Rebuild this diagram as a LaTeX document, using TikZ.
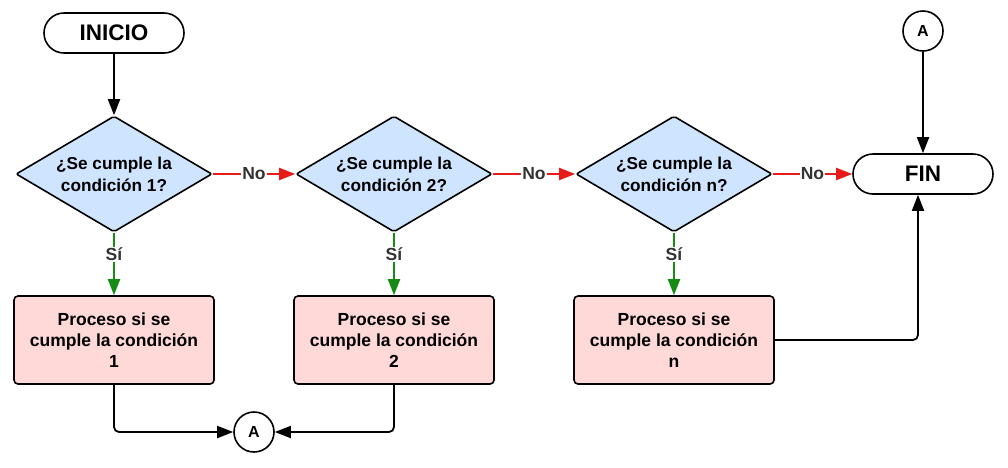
\documentclass[tikz,border=0pt]{standalone}
\usepackage{fontspec}
\setmainfont{Liberation Sans}
\usetikzlibrary{shapes.geometric,arrows.meta}
\definecolor{diafill}{HTML}{CFE4FF}
\definecolor{procfill}{HTML}{FFD8D8}
\definecolor{nored}{HTML}{E81A1A}
\definecolor{sigreen}{HTML}{168C16}
\definecolor{lblgray}{HTML}{333333}
\begin{document}
\begin{tikzpicture}[x=1pt,y=-1pt,
  every node/.style={font=\bfseries},
  term/.style={draw,line width=1.6pt,rounded corners=20pt,minimum width=140pt,minimum height=40pt,fill=white,font=\fontsize{22.5}{24}\selectfont\bfseries},
  dia/.style={draw,line width=1.6pt,diamond,fill=diafill,inner sep=0pt,minimum width=196pt,minimum height=116pt,rounded corners=2pt},
  diatext/.style={align=center,font=\fontsize{17.2}{22}\selectfont\bfseries},
  proc/.style={draw,line width=1.6pt,rounded corners=4pt,fill=procfill,minimum width=200pt,minimum height=88pt,align=center,font=\fontsize{17.5}{21}\selectfont\bfseries},
  conn/.style={draw,circle,line width=1.6pt,minimum size=40pt,inner sep=0pt,fill=white,font=\fontsize{16}{18}\selectfont\bfseries},
  tip/.style={-{Triangle[length=16pt,width=12pt]}},
  blk/.style={line width=1.8pt,tip,rounded corners=5pt},
  nol/.style={line width=2pt,nored,tip},
  sil/.style={line width=2pt,sigreen,tip},
  lbl/.style={fill=white,text=lblgray,inner sep=1pt,font=\fontsize{17.5}{19}\selectfont\bfseries}]
\useasboundingbox (0,0) rectangle (1008,467);

\node[term] (ini) at (114,33) {INICIO};
\node[term] (fin) at (923,174) {FIN};
\node[conn] (atop) at (923,31) {A};
\node[conn] (abot) at (254,432) {A};

\node[dia] (d1) at (114,174) {};
\node[dia] (d2) at (394,174) {};
\node[dia] (d3) at (674,174) {};
\node[diatext] (t1) at (d1) {¿Se cumple la\\condición 1?};
\node[diatext] (t2) at (d2) {¿Se cumple la\\condición 2?};
\node[diatext] (t3) at (d3) {¿Se cumple la\\condición n?};

\node[proc] (p1) at (114,340) {Proceso si se\\cumple la condición\\1};
\node[proc] (p2) at (394,340) {Proceso si se\\cumple la condición\\2};
\node[proc] (p3) at (674,340) {Proceso si se\\cumple la condición\\n};

\draw[blk] (ini) -- (d1);
\draw[nol] (d1.east) -- node[lbl] (n1) {No} (d2.west);
\draw[nol] (d2.east) -- node[lbl] (n2) {No} (d3.west);
\draw[nol] (d3.east) -- node[lbl] (n3) {No} (fin.west);
\draw[sil] (d1.south) -- node[lbl,pos=0.34] (s1) {Sí} (p1.north);
\draw[sil] (d2.south) -- node[lbl,pos=0.34] (s2) {Sí} (p2.north);
\draw[sil] (d3.south) -- node[lbl,pos=0.34] (s3) {Sí} (p3.north);

\draw[blk] (p1.south) |- (abot.west);
\draw[blk] (p2.south) |- (abot.east);
\coordinate (finin) at ([xshift=-5pt]fin.south);
\draw[blk] (p3.east) -| (finin);
\draw[blk] (atop) -- (fin);
\end{tikzpicture}
\end{document}
